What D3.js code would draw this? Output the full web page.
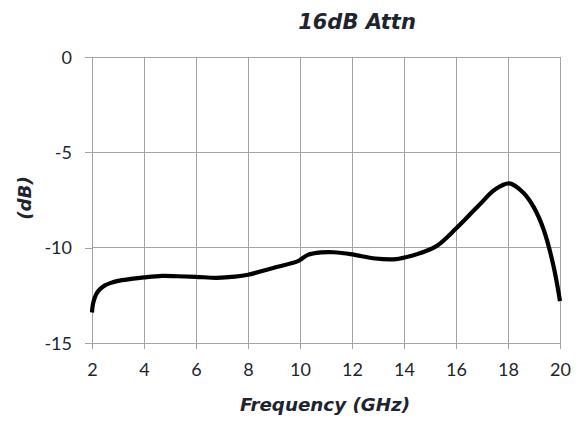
<!DOCTYPE html>
<html>
<head>
<meta charset="utf-8">
<script src="https://cdn.jsdelivr.net/npm/d3@7"></script>
<style>
  html, body { margin: 0; padding: 0; background: #ffffff; }
  svg { display: block; }
</style>
</head>
<body>
<svg id="chart" width="577" height="423"></svg>
<script>
// ---- data ----
const freqGHz = [2.0, 2.02, 2.05, 2.1, 2.16, 2.24, 2.35, 2.5, 2.7, 3.0, 3.5, 4.0, 4.7, 5.3, 6.0, 6.8, 7.5, 8.0, 9.0, 9.9, 10.05, 10.3, 10.8, 11.3, 12.0, 12.9, 13.7, 14.3, 14.8, 15.3, 16.0, 16.9, 17.5, 18.05, 18.6, 19.0, 19.37, 19.75, 20.0];
const attnDB  = [-13.4, -13.1, -12.88, -12.65, -12.45, -12.28, -12.12, -11.98, -11.86, -11.74, -11.64, -11.56, -11.48, -11.5, -11.53, -11.58, -11.52, -11.42, -11.05, -10.72, -10.6, -10.38, -10.25, -10.24, -10.35, -10.57, -10.6, -10.42, -10.2, -9.87, -9.0, -7.75, -6.95, -6.63, -7.13, -7.9, -9.05, -10.96, -12.8];
const xTicks = [2, 4, 6, 8, 10, 12, 14, 16, 18, 20];
const yTicks = [0, -5, -10, -15];
const titleText = "16dB Attn";
const xLabel = "Frequency (GHz)";
const yLabel = "(dB)";

// ---- layout ----
const svg = d3.select("#chart");
const m = { left: 92, right: 577 - 560, top: 57, bottom: 423 - 343 };
const W = 577, H = 423;
const x = d3.scaleLinear().domain([2, 20]).range([m.left, W - m.right]);
const y = d3.scaleLinear().domain([-15, 0]).range([H - m.bottom, m.top]);

const textColor = "#1e2530";
const gridColor = "#a3a3ab";

// grid lines
svg.append("g").selectAll("line.v").data(xTicks).join("line")
  .attr("x1", d => x(d)).attr("x2", d => x(d))
  .attr("y1", y(0)).attr("y2", y(-15))
  .attr("stroke", gridColor).attr("stroke-width", 1).attr("shape-rendering", "crispEdges");
svg.append("g").selectAll("line.h").data(yTicks).join("line")
  .attr("x1", x(2)).attr("x2", x(20))
  .attr("y1", d => y(d)).attr("y2", d => y(d))
  .attr("stroke", gridColor).attr("stroke-width", 1).attr("shape-rendering", "crispEdges");

// axes
const xAxis = svg.append("g").attr("transform", `translate(0,${y(-15)})`)
  .call(d3.axisBottom(x).tickValues(xTicks).tickSize(6).tickPadding(14).tickFormat(d3.format("d")));
const yAxis = svg.append("g").attr("transform", `translate(${x(2)},0)`)
  .call(d3.axisLeft(y).tickValues(yTicks).tickSize(7).tickPadding(13).tickFormat(d => d === 0 ? "0" : String(d)));
[xAxis, yAxis].forEach(g => {
  g.select(".domain").attr("stroke", gridColor).attr("shape-rendering", "crispEdges");
  g.selectAll(".tick line").attr("stroke", gridColor).attr("shape-rendering", "crispEdges");
  g.selectAll(".tick text").attr("fill", textColor)
    .style("font-family", "Lato, 'Open Sans', sans-serif").style("font-size", "18px");
});
yAxis.selectAll(".tick text").attr("dy", "0.35em");

// curve
const pts = freqGHz.map((f, i) => [f, attnDB[i]]);
const line = d3.line().x(d => x(d[0])).y(d => y(d[1])).curve(d3.curveCatmullRom.alpha(0.5));
svg.append("path").datum(pts)
  .attr("d", line)
  .attr("fill", "none").attr("stroke", "#000").attr("stroke-width", 4.2)
  .attr("stroke-linejoin", "round").attr("stroke-linecap", "butt");

// titles
svg.append("text").attr("x", 357).attr("y", 29).attr("text-anchor", "middle")
  .attr("fill", textColor).style("font-family", "'DejaVu Sans', sans-serif")
  .style("font-size", "21px").style("font-weight", "bold").style("font-style", "italic")
  .text(titleText);
svg.append("text").attr("x", 325).attr("y", 411).attr("text-anchor", "middle")
  .attr("fill", textColor).style("font-family", "'DejaVu Sans', sans-serif")
  .style("font-size", "18.3px").style("font-weight", "bold").style("font-style", "italic")
  .text(xLabel);
svg.append("text").attr("transform", "translate(31,198) rotate(-90)").attr("text-anchor", "middle")
  .attr("fill", textColor).style("font-family", "'DejaVu Sans', sans-serif")
  .style("font-size", "18.3px").style("font-weight", "bold").style("font-style", "italic")
  .text(yLabel);
</script>
</body>
</html>
